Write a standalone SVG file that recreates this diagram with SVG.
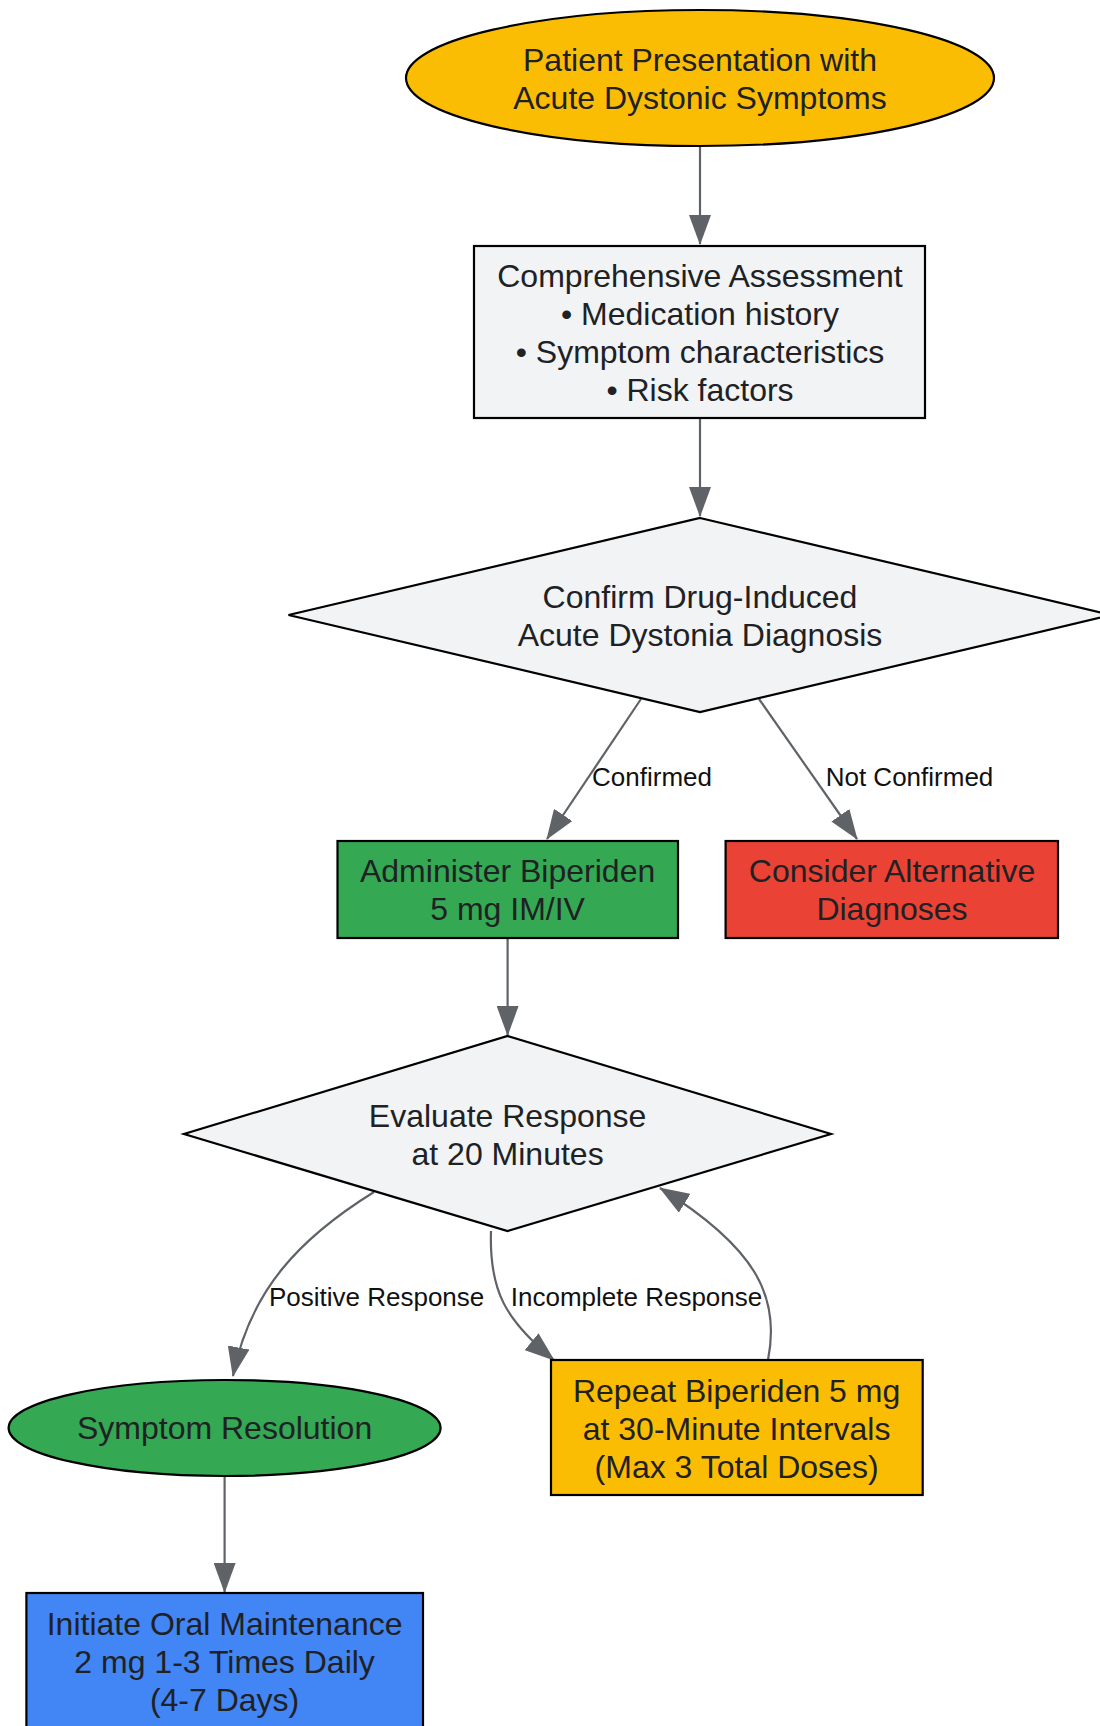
<svg xmlns="http://www.w3.org/2000/svg" width="1100" height="1726" viewBox="0 0 1100 1726">
<style>
.node{stroke:#000;stroke-width:2.2}
.t{font-family:"Liberation Sans",Arial,sans-serif;font-size:32px;fill:#202124;text-anchor:middle;dominant-baseline:central}
.e{fill:none;stroke:#5F6368;stroke-width:2.2}
.lbl{font-family:"Liberation Sans",Arial,sans-serif;font-size:26px;fill:#111;text-anchor:middle;dominant-baseline:central}
</style>
<defs>
<marker id="arr" markerUnits="userSpaceOnUse" markerWidth="30" markerHeight="22" refX="29" refY="11" orient="auto">
<path d="M0,0 L30,11 L0,22 z" fill="#5F6368"/>
</marker>
</defs>
<rect width="1100" height="1726" fill="#fff"/>
<g id="connectors">
<path class="e" d="M700,146 L700,244" marker-end="url(#arr)"/>
<path class="e" d="M700,418 L700,516" marker-end="url(#arr)"/>
<path class="e" d="M641,699 L547,839" marker-end="url(#arr)"/>
<path class="e" d="M759,699 L857,839" marker-end="url(#arr)"/>
<path class="e" d="M507.6,938 L507.6,1035" marker-end="url(#arr)"/>
<path class="e" d="M374,1192 C300,1238 250,1290 233,1376" marker-end="url(#arr)"/>
<path class="e" d="M491,1231 C489,1290 505,1320 554,1360" marker-end="url(#arr)"/>
<path class="e" d="M768,1360 C780,1300 760,1250 660,1188" marker-end="url(#arr)"/>
<path class="e" d="M224.6,1476 L224.6,1592" marker-end="url(#arr)"/>
<text class="lbl" x="652" y="777">Confirmed</text>
<text class="lbl" x="909.5" y="777">Not Confirmed</text>
<text class="lbl" x="376.6" y="1297">Positive Response</text>
<text class="lbl" x="636.5" y="1297">Incomplete Response</text>
</g>
<g id="start">
<ellipse class="node" cx="700" cy="78" rx="294" ry="68" fill="#FBBC04"/>
<text class="t" x="700" y="60">Patient Presentation with</text>
<text class="t" x="700" y="98">Acute Dystonic Symptoms</text>
</g>
<g id="assessment">
<rect class="node" x="474" y="246" width="451" height="172" fill="#F1F3F4"/>
<text class="t" x="700" y="276">Comprehensive Assessment</text>
<text class="t" x="700" y="314">• Medication history</text>
<text class="t" x="700" y="352">• Symptom characteristics</text>
<text class="t" x="700" y="390">• Risk factors</text>
</g>
<g id="confirm">
<polygon class="node" points="700,518 1111.5,615 700,712 288.5,615" fill="#F1F3F4"/>
<text class="t" x="700" y="597">Confirm Drug-Induced</text>
<text class="t" x="700" y="635">Acute Dystonia Diagnosis</text>
</g>
<g id="administer">
<rect class="node" x="337.5" y="841" width="340.5" height="97" fill="#34A853"/>
<text class="t" x="507.6" y="871">Administer Biperiden</text>
<text class="t" x="507.6" y="909">5 mg IM/IV</text>
</g>
<g id="alternative">
<rect class="node" x="725.6" y="841" width="332.4" height="97" fill="#EA4335"/>
<text class="t" x="892" y="871">Consider Alternative</text>
<text class="t" x="892" y="909">Diagnoses</text>
</g>
<g id="evaluate">
<polygon class="node" points="507.6,1036 831,1134 507.6,1231 184,1134" fill="#F1F3F4"/>
<text class="t" x="507.6" y="1116">Evaluate Response</text>
<text class="t" x="507.6" y="1154">at 20 Minutes</text>
</g>
<g id="resolution">
<ellipse class="node" cx="224.6" cy="1428" rx="216" ry="48" fill="#34A853"/>
<text class="t" x="224.6" y="1428">Symptom Resolution</text>
</g>
<g id="repeat">
<rect class="node" x="551" y="1360" width="371.7" height="135" fill="#FBBC04"/>
<text class="t" x="736.6" y="1391">Repeat Biperiden 5 mg</text>
<text class="t" x="736.6" y="1429">at 30-Minute Intervals</text>
<text class="t" x="736.6" y="1467">(Max 3 Total Doses)</text>
</g>
<g id="maintenance">
<rect class="node" x="26.4" y="1593" width="396.6" height="170" fill="#4285F4"/>
<text class="t" x="224.6" y="1624">Initiate Oral Maintenance</text>
<text class="t" x="224.6" y="1662">2 mg 1-3 Times Daily</text>
<text class="t" x="224.6" y="1700">(4-7 Days)</text>
</g>
</svg>
